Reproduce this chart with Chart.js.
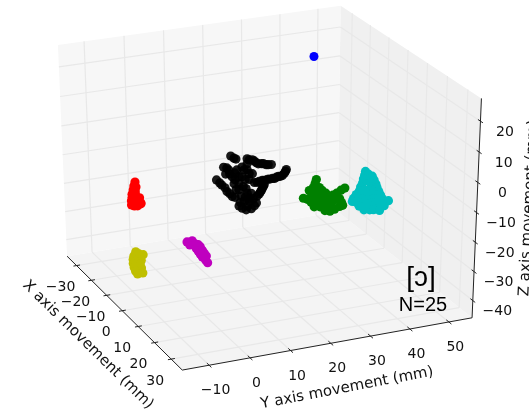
<!DOCTYPE html>
<html><head><meta charset="utf-8">
<style>html,body{margin:0;padding:0;background:#fff}canvas{display:block}</style>
<script src="https://cdn.jsdelivr.net/npm/chart.js@4/dist/chart.umd.min.js"></script>
</head><body><canvas id="c" width="529" height="414"></canvas>
<script>
const xTicks=[-30,-20,-10,0,10,20,30];
const yTicks=[-10,0,10,20,30,40,50];
const zTicks=[-40,-30,-20,-10,0,10,20];
const xRange=[-36.5,36.5], yRange=[-16.5,56], zRange=[-46,27.3];
const xLabel="X axis movement (mm)", yLabel="Y axis movement (mm)", zLabel="Z axis movement (mm)";
const vowel="[ɔ]", countLabel="N=25";

const redDepth=0, redY=[-12.4,-12.7,-12.2,-12.9,-12.4,-13.2,-12.4,-13.2,-12.2,-11.4,-13.4,-12.7,-11.7,-11.1,-13.4,-12.7,-11.9,-11.1];
const redZ=[-2.8,-4.1,-4.5,-5.4,-5.8,-6.7,-6.8,-7.7,-8.2,-8.3,-8.9,-9.1,-9.3,-10.1,-10.3,-10.8,-10.9,-10.4];
const yellowDepth=0, yellowY=[-12.7,-11.9,-10.9,-13.2,-11.7,-13.4,-12.4,-11.4,-13.4,-12.4,-11.7,-13.2,-12.2,-11.4,-12.9,-11.9,-11.1,-12.4];
const yellowZ=[-26.4,-27.3,-27.8,-27.7,-28.6,-28.9,-29.1,-29.7,-30.3,-30.5,-31.0,-31.7,-31.9,-32.3,-33.0,-33.6,-34.1,-34.1];
const magentaDepth=0, magentaY=[0.1,0.8,1.4,2.1,2.9,2.4,3.4,2.9,3.9,3.4,4.4,3.9,4.9,4.7,5.2];
const magentaZ=[-25.9,-27.1,-25.8,-27.0,-27.5,-28.7,-28.3,-29.8,-29.7,-30.9,-30.8,-32.0,-31.9,-33.2,-34.3];
const blackDepth=0, blackY=[11.3,12.6,15.4,16.7,17.7,19.0,20.2,21.5,25.3,24.8,23.8,22.8,21.8,20.5,19.2,17.9,19.7,19.2,18.7,17.9,9.5,10.8,11.6,10.0,7.7,9.0,10.3,11.6,15.4,14.6,16.7,14.1,15.9,13.3,12.6,15.1,16.4,14.6,14.1,16.4,17.7,15.9,12.8,12.1,13.9,15.4,
 12.1,15.9,17.2,18.2,19.5,20.7,25.1,24.3,23.3,22.3,21.0,19.7,18.4,17.2,19.5,19.0,18.4,10.3,11.0,12.3,8.5,9.8,11.0,12.3,13.3,13.3,12.3,14.1,15.4,15.9,14.9,14.4,15.4,14.9,16.1,13.6,13.3,16.9,15.1,17.2];
const blackZ=[0.9,-0.4,-0.9,-1.5,-2.7,-3.3,-3.9,-4.1,-6.6,-7.8,-8.6,-8.7,-8.9,-8.9,-9.0,-9.4,-10.5,-11.7,-12.9,-14.1,-2.5,-3.7,-6.2,-4.9,-6.4,-8.4,-10.9,-12.9,-2.6,-4.5,-6.2,-6.7,-8.0,-8.9,-10.7,-10.9,-12.8,-15.1,-17.4,-18.1,-16.4,-15.4,-4.1,-8.6,-13.3,-17.0,
 0.0,-1.4,-2.0,-3.2,-3.4,-4.0,-7.2,-8.4,-8.5,-9.0,-9.0,-9.1,-9.2,-9.3,-11.1,-12.3,-13.5,-2.9,-5.1,-7.3,-7.6,-9.5,-11.8,-13.3,-10.9,-6.5,-5.0,-3.4,-4.6,-6.0,-7.8,-10.1,-12.6,-13.8,-14.4,-15.3,-16.5,-14.9,-18.2,-17.3];
const greenDepth=0, greenY=[33.0,32.7,32.2,33.8,31.2,32.7,34.5,35.5,40.4,39.4,38.3,37.3,29.7,30.7,32.0,33.8,35.3,36.6,31.7,33.2,34.8,36.3,37.8,39.1,39.6,39.9,39.1,32.5,34.0,35.5,37.1,36.6,37.8,35.3];
const greenZ=[-11.7,-13.0,-14.3,-14.6,-15.1,-15.7,-15.7,-16.9,-16.2,-16.7,-17.5,-18.0,-17.4,-18.0,-17.2,-17.6,-18.5,-18.8,-19.2,-19.5,-20.1,-20.4,-19.7,-19.6,-21.0,-22.1,-22.3,-21.0,-21.3,-22.0,-21.9,-23.4,-23.0,-22.9];
const cyanDepth=0, cyanY=[45.7,45.5,46.5,47.5,45.2,46.3,48.0,45.0,47.0,48.5,44.5,47.3,48.8,44.2,45.5,46.8,48.0,49.3,43.4,44.7,46.0,47.3,48.5,49.8,42.7,44.0,45.2,46.5,47.8,49.0,50.3,42.4,43.4,44.7,46.0,47.3,48.5,49.8,51.1,51.9,44.2,45.5,46.8,47.0,45.5,49.6,50.8,48.0,49.6];
const cyanZ=[-11.6,-12.9,-12.7,-13.6,-14.1,-14.7,-15.0,-15.4,-15.8,-16.5,-16.7,-17.2,-17.8,-18.0,-17.9,-18.4,-19.0,-19.3,-19.1,-19.4,-19.6,-20.2,-20.5,-20.7,-20.3,-20.6,-21.1,-21.4,-21.6,-21.9,-22.1,-21.3,-21.8,-22.4,-22.6,-22.9,-23.1,-23.4,-23.3,-23.1,-23.3,-23.9,-24.1,-25.2,-24.9,-25.0,-24.6,-25.4,-26.0];
const blueDepth=-20, blueY=[41.4], blueZ=[19.5];

// Camera: a projective view of the data box, fitted to how its edges and ticks appear.
const [x0,x1]=xRange,[y0,y1]=yRange,[z0,z1]=zRange;
const cameraFit=[[x0,y0,z0,67,256],[x1,y0,z0,183,370],[x1,y1,z0,472,318],[x0,y1,z0,338,214],
  [x0,y0,z1,58,45],[x0,y1,z1,341,6],[x1,y1,z1,482,99]];
[77,92,107,123,138,154,172].forEach((u,i)=>cameraFit.push([xTicks[i],y0,z0,u,[266,280,296,311,327,343,359][i]]));
[209,250,290,330,370,409,448].forEach((u,i)=>cameraFit.push([x1,yTicks[i],z0,u,[366,359,351,344,336,330,322][i]]));
[472,474,475,476,478,480,482].forEach((u,i)=>cameraFit.push([x1,y1,zTicks[i],u,[300,270,240,210,182,152,121][i]]));
[66,65,64,63,62,60,59].forEach((u,i)=>cameraFit.push([x0,y0,zTicks[i],u,[239,211,183,153,124,96,65][i]]));
[339,339,339,339,340,340,340].forEach((u,i)=>cameraFit.push([x0,y1,zTicks[i],u,[197,168,140,112,83,55,26][i]]));
[83,124,163,202,241,279,317].forEach((u,i)=>cameraFit.push([x0,yTicks[i],z1,u,[42,37,32,26,20,15,9][i]]));
[352,371,389,408,428,448,468].forEach((u,i)=>cameraFit.push([xTicks[i],y1,z1,u,[13,26,38,51,63,77,90][i]]));
const nx=v=>(v-x0)/(x1-x0), ny=v=>(v-y0)/(y1-y0), nz=v=>(v-z0)/(z1-z0);
function solveCamera(){
  const A=[],b=[];
  cameraFit.forEach(([X,Y,Z,u,v])=>{
    const p=[nx(X),ny(Y),nz(Z),1],U=u/400,V=v/400;
    A.push([...p,0,0,0,0,-U*p[0],-U*p[1],-U*p[2]]);b.push(U);
    A.push([0,0,0,0,...p,-V*p[0],-V*p[1],-V*p[2]]);b.push(V);
  });
  const n=11,M=[];
  for(let i=0;i<n;i++){const r=[];
    for(let j=0;j<n;j++){let s=0;A.forEach(a=>s+=a[i]*a[j]);r.push(s+(i===j?1e-10:0));}
    let s=0;A.forEach((a,k)=>s+=a[i]*b[k]);r.push(s);M.push(r);}
  for(let i=0;i<n;i++){let p=i;for(let k=i+1;k<n;k++)if(Math.abs(M[k][i])>Math.abs(M[p][i]))p=k;
    [M[i],M[p]]=[M[p],M[i]];
    for(let k=0;k<n;k++)if(k!==i){const f=M[k][i]/M[i][i];for(let j=i;j<=n;j++)M[k][j]-=f*M[i][j];}}
  return M.map((r,i)=>r[n]/r[i]);
}
const H=solveCamera();
function project(X,Y,Z){
  const a=nx(X),b=ny(Y),c=nz(Z),w=H[8]*a+H[9]*b+H[10]*c+1;
  return {x:400*(H[0]*a+H[1]*b+H[2]*c+H[3])/w,y:400*(H[4]*a+H[5]*b+H[6]*c+H[7])/w};
}

const datasets=[];
const addLine=(pts,color,width,order,fill)=>datasets.push({type:'scatter',showLine:true,data:pts,borderColor:color,
  borderWidth:width,pointRadius:0,order,fill:fill?'shape':false,backgroundColor:fill||color,tension:0});
const seg=(a,b,color,width,order)=>addLine([project(...a),project(...b)],color,width,order);

addLine([[x0,y0,z0],[x0,y1,z0],[x0,y1,z1],[x0,y0,z1],[x0,y0,z0]].map(p=>project(...p)),'rgba(0,0,0,0)',0,5,'#f7f7f7');
addLine([[x0,y1,z0],[x1,y1,z0],[x1,y1,z1],[x0,y1,z1],[x0,y1,z0]].map(p=>project(...p)),'rgba(0,0,0,0)',0,5,'#f0f0f0');
addLine([[x0,y0,z0],[x1,y0,z0],[x1,y1,z0],[x0,y1,z0],[x0,y0,z0]].map(p=>project(...p)),'rgba(0,0,0,0)',0,5,'#f4f4f4');

const gridColor='#e8e8e8';
yTicks.forEach(t=>{seg([x0,t,z0],[x0,t,z1],gridColor,1.2,4);seg([x0,t,z0],[x1,t,z0],gridColor,1.2,4);});
xTicks.forEach(t=>{seg([t,y1,z0],[t,y1,z1],gridColor,1.2,4);seg([t,y0,z0],[t,y1,z0],gridColor,1.2,4);});
zTicks.forEach(t=>{seg([x0,y0,t],[x0,y1,t],gridColor,1.2,4);seg([x0,y1,t],[x1,y1,t],gridColor,1.2,4);});

const axisColor='#222222';
seg([x0,y0,z0],[x1,y0,z0],axisColor,1,3);
seg([x1,y0,z0],[x1,y1,z0],axisColor,1,3);
seg([x1,y1,z0],[x1,y1,z1],axisColor,1,3);
xTicks.forEach(t=>seg([t,y0-0.8,z0],[t,y0+0.9,z0],axisColor,1,3));
yTicks.forEach(t=>seg([x1-1.3,t,z0],[x1+1.3,t,z0],axisColor,1,3));
zTicks.forEach(t=>seg([x1-1.2,y1,t],[x1+1.2,y1,t],axisColor,1,3));

const addCluster=(depth,ys,zs,color,r)=>datasets.push({type:'scatter',
  data:ys.map((y,i)=>project(depth,y,zs[i])),backgroundColor:color,borderWidth:0,pointRadius:r,order:1});
addCluster(redDepth,redY,redZ,'#ff0000',4.6);
addCluster(yellowDepth,yellowY,yellowZ,'#bfbf00',4.6);
addCluster(magentaDepth,magentaY,magentaZ,'#bf00bf',4.6);
addCluster(blackDepth,blackY,blackZ,'rgba(0,0,0,0.9)',4.6);
addCluster(greenDepth,greenY,greenZ,'#008000',4.6);
addCluster(cyanDepth,cyanY,cyanZ,'#00bfbf',4.6);
addCluster(blueDepth,blueY,blueZ,'#0000ff',4.5);

const fmt=t=>(t<0?'\u2212'+(-t):String(t));
const textPlugin={id:'axisText',afterDatasetsDraw(chart){
  const c=chart.ctx;c.save();c.fillStyle='#111';c.textAlign='center';c.textBaseline='middle';
  c.font='14px "DejaVu Sans"';
  const put=(t,p,dx,dy)=>c.fillText(fmt(t),p.x+dx,p.y+dy);
  xTicks.forEach(t=>put(t,project(t,y0,z0),-16,22));
  yTicks.forEach(t=>put(t,project(x1,t,z0),6.5,25.5));
  zTicks.forEach(t=>put(t,project(x1,y1,t),24.5,11));
  const rot=(s,x,y,deg)=>{c.save();c.translate(x,y);c.rotate(deg*Math.PI/180);c.fillText(s,0,0);c.restore();};
  c.font='15px "DejaVu Sans"';
  rot(xLabel,88,345,44.5);
  rot(yLabel,347,388,-10.8);
  rot(zLabel,529,208,-87);
  c.fillStyle='#000';c.textBaseline='alphabetic';
  c.font='28px "Liberation Sans"';c.fillText(vowel,421,286);
  c.font='20px "Liberation Sans"';c.fillText(countLabel,423,311);
  c.restore();
}};

new Chart(document.getElementById('c'),{
  data:{datasets},
  plugins:[textPlugin],
  options:{responsive:false,animation:false,events:[],
    layout:{padding:0,autoPadding:false},
    plugins:{legend:{display:false},tooltip:{enabled:false},title:{display:false}},
    scales:{x:{type:'linear',min:0,max:529,display:false},
            y:{type:'linear',min:0,max:414,reverse:true,display:false}}}
});
</script></body></html>
